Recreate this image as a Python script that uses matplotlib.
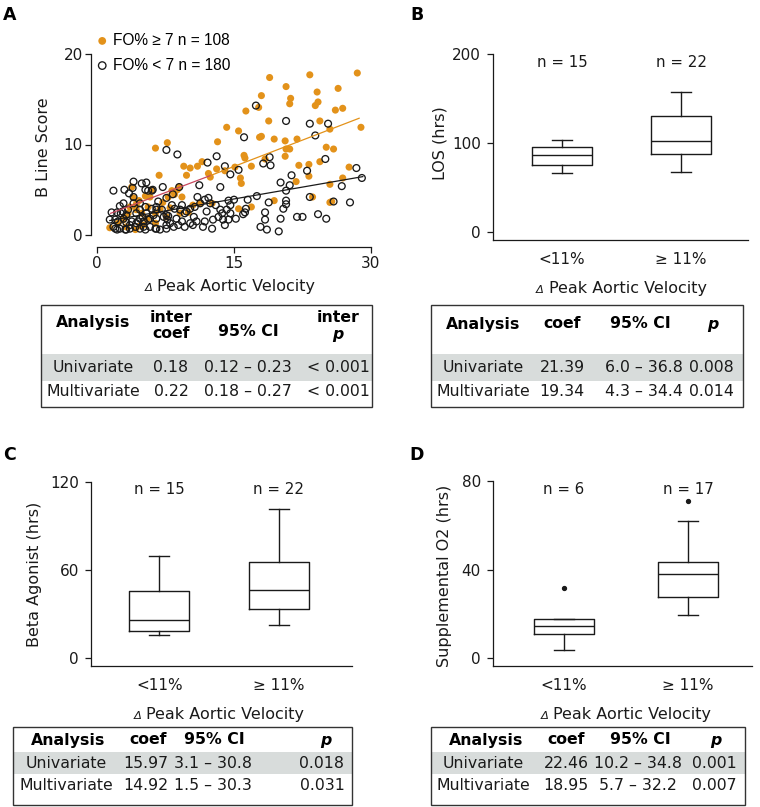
import matplotlib
matplotlib.use("Agg")
import matplotlib.pyplot as plt
from matplotlib.patches import Rectangle
import numpy as np

plt.rcParams['font.family'] = ['DejaVu Sans']

# ---------------- data ----------------
# Panel A scatter: FO% >= 7 (orange) and FO% < 7 (open black)
hi_x = [28.5, 23.3, 18.9, 20.7, 26.4, 18.0, 21.2, 24.1, 24.2, 23.9, 21.1, 17.7, 16.3, 26.1, 26.9,
        18.8, 24.4, 28.9, 15.5, 14.2, 18.0, 17.8, 19.4, 20.6, 21.9, 25.5, 20.7, 21.1, 25.1, 25.9,
        20.6, 18.4, 16.1, 16.2, 24.4, 22.1, 23.2, 16.9, 15.1, 27.6, 15.7, 15.8, 23.2, 21.8, 25.5,
        26.9, 19.4, 23.6, 25.5, 16.9, 15.5, 25.7,
        13.2, 7.7, 6.4, 6.8, 9.5, 10.2, 11.0, 11.5, 9.8, 12.2, 12.4, 13.1, 14.0, 8.2, 8.5, 8.8,
        9.3, 7.8, 9.0, 3.8, 4.0, 4.3, 4.3, 3.4, 5.3, 5.8, 5.6, 4.9, 6.4, 6.9, 7.6, 9.1, 1.4, 2.3,
        3.2, 2.9, 4.2, 5.1, 6.4, 11.3, 10.5, 12.6, 3.6,
        4.6, 7.2, 3.0, 5.5, 4.7, 8.0, 10.0, 6.0]
hi_y = [17.9, 17.7, 17.4, 16.4, 16.2, 15.4, 15.1, 15.8, 14.7, 14.3, 14.5, 14.1, 13.7, 13.8, 14.0,
        12.6, 12.6, 11.9, 11.5, 11.9, 10.9, 10.8, 10.6, 10.4, 10.6, 11.7, 9.5, 9.5, 9.7, 9.5,
        8.7, 8.4, 8.8, 8.5, 8.1, 7.7, 7.8, 7.6, 7.5, 7.5, 6.3, 5.7, 6.5, 5.9, 5.6,
        6.3, 3.8, 4.2, 3.6, 3.1, 2.9, 3.7,
        10.3, 10.2, 9.6, 6.6, 7.6, 7.4, 7.6, 8.1, 6.6, 6.8, 6.4, 7.3, 7.1, 4.9, 4.5, 5.0,
        4.2, 4.2, 5.3, 5.3, 4.1, 3.4, 2.8, 2.4, 4.3, 4.2, 3.1, 2.4, 2.4, 2.9, 2.0, 2.4, 0.8, 1.3,
        0.9, 1.7, 0.6, 1.1, 1.3, 3.5, 3.3, 3.5, 3.1,
        3.8, 3.6, 2.0, 1.8, 1.0, 3.0, 2.5, 5.0]

lo_x = [17.4, 20.7, 23.3, 25.3, 16.1, 23.9, 18.9, 19.0, 18.2, 23.0, 25.0, 28.4, 29.0, 21.3, 20.1,
        21.1, 26.8, 20.7, 17.5, 15.5, 14.6, 14.0, 18.8, 20.7, 20.7, 23.3, 25.9, 27.7, 20.4, 18.4,
        16.2, 16.3, 16.5, 18.4, 20.1, 21.9, 22.5, 24.2, 25.1, 17.9, 18.6, 19.9, 15.2, 14.6, 16.0,
        15.0, 14.4,
        7.6, 8.8, 13.1, 12.1, 11.2, 13.5, 9.0, 7.2, 1.8, 3.0, 4.0, 4.9, 5.4, 3.9, 5.3, 5.6, 6.0,
        2.9, 4.0, 3.4, 1.6, 2.2, 2.6, 3.2, 4.3, 5.4, 6.2, 6.5, 7.3, 7.8, 8.5, 9.1, 9.8, 10.2,
        10.7, 11.3, 11.8, 12.2, 12.4, 13.0, 13.5, 13.7, 13.3, 13.8, 12.7, 11.8, 10.9, 10.2, 9.3,
        8.9, 8.0, 7.6, 6.9, 6.4, 5.8, 5.3, 4.7, 4.2, 3.6, 3.1, 2.5, 2.2, 3.2, 3.8, 4.3, 5.1, 5.6,
        4.7, 2.9, 2.3, 6.0, 6.5, 7.1, 8.2, 7.7, 8.4, 9.6, 10.5, 11.6, 12.6, 14.0, 14.4, 14.2,
        14.6, 7.6, 6.7, 4.7, 5.3, 2.0, 1.8, 1.4,
        2.8, 4.0, 4.7, 3.6, 5.1, 6.5, 7.6, 8.7, 9.6, 7.6, 6.5, 5.8, 4.5, 3.2, 2.0, 6.1, 3.5, 2.5,
        5.0, 9.3, 10.6, 12.0, 11.0, 8.3]
lo_y = [14.3, 12.6, 12.3, 12.3, 10.8, 11.0, 8.6, 7.7, 7.9, 7.1, 8.4, 7.4, 6.3, 6.6, 5.8,
        5.5, 5.4, 4.9, 4.3, 7.2, 6.7, 7.6, 3.6, 3.8, 3.4, 4.2, 3.7, 3.6, 2.9, 2.5,
        2.5, 2.9, 3.9, 1.7, 1.8, 2.0, 2.0, 2.3, 1.8, 0.9, 0.6, 0.4, 1.8, 2.4, 2.3,
        3.9, 3.8,
        9.4, 8.9, 8.7, 8.0, 5.5, 5.3, 5.3, 5.3, 4.9, 5.0, 5.9, 5.7, 5.8, 5.2, 5.0, 4.9, 4.9,
        3.5, 4.2, 2.8, 2.5, 2.5, 2.4, 2.2, 2.4, 2.4, 2.2, 1.8, 2.0, 2.1, 2.9, 2.8, 2.6, 2.9,
        3.1, 3.5, 3.9, 4.1, 3.5, 3.3, 2.8, 2.4, 2.0, 1.7, 1.7, 1.5, 1.5, 1.3, 1.5,
        1.1, 1.3, 0.7, 0.6, 0.7, 0.9, 0.6, 0.7, 0.9, 0.7, 0.6, 0.7, 0.6, 1.4, 1.5, 1.3, 1.5, 1.7,
        1.8, 1.8, 1.5, 2.9, 3.1, 2.8, 3.3, 1.7, 0.9, 0.9, 1.1, 0.9, 0.7, 1.1, 1.7, 2.8,
        3.3, 4.1, 3.7, 3.5, 3.1, 1.7, 0.9, 1.7,
        2.6, 3.5, 2.8, 1.1, 0.9, 0.7, 1.1, 1.8, 2.4, 2.2, 2.8, 1.8, 1.5, 0.6, 0.7, 5.0, 4.6, 3.2,
        2.0, 3.3, 2.0, 2.6, 4.2, 4.5]

# fitted lines
fit_hi_x = [1.5, 12.5, 28.7]
fit_hi_y = [2.4, 6.6, 12.9]
fit_lo_x = [1.4, 29.1]
fit_lo_y = [1.6, 6.45]

legend_labels = ["FO% \u2265 7 n = 108", "FO% < 7 n = 180"]

categories = ["<11%", "\u2265 11%"]

# Panel B: LOS (hrs)
b_whislo = [66, 68]
b_q1 = [75, 87.5]
b_med = [86.3, 102.4]
b_q3 = [95.7, 130.8]
b_whishi = [103.8, 157.3]
b_fliers = [[], []]
b_n = ["n = 15", "n = 22"]

# Panel C: Beta agonist (hrs)
c_whislo = [15.7, 22.3]
c_q1 = [18.6, 33.4]
c_med = [25.9, 46.4]
c_q3 = [45.9, 65.4]
c_whishi = [69.7, 101.8]
c_fliers = [[], []]
c_n = ["n = 15", "n = 22"]

# Panel D: Supplemental O2 (hrs)
d_whislo = [3.6, 19.4]
d_q1 = [10.7, 27.7]
d_med = [14.6, 37.8]
d_q3 = [17.6, 43.5]
d_whishi = [17.6, 61.9]
d_fliers = [[31.8], [71.0]]
d_n = ["n = 6", "n = 17"]

# Tables
tab_cols_A = [["Analysis"], ["inter", "coef"], ["95% CI"], ["inter", "p"]]
tab_rows_A = [["Univariate", "0.18", "0.12 \u2013 0.23", "< 0.001"],
              ["Multivariate", "0.22", "0.18 \u2013 0.27", "< 0.001"]]
tab_cols = ["Analysis", "coef", "95% CI", "p"]
tab_rows_B = [["Univariate", "21.39", "6.0 \u2013 36.8", "0.008"],
              ["Multivariate", "19.34", "4.3 \u2013 34.4", "0.014"]]
tab_rows_C = [["Univariate", "15.97", "3.1 \u2013 30.8", "0.018"],
              ["Multivariate", "14.92", "1.5 \u2013 30.3", "0.031"]]
tab_rows_D = [["Univariate", "22.46", "10.2 \u2013 34.8", "0.001"],
              ["Multivariate", "18.95", "5.7 \u2013 32.2", "0.007"]]

# ---------------- layout helpers ----------------
W, H = 760, 807
fig = plt.figure(figsize=(W / 100, H / 100), dpi=100)
renderer = fig.canvas.get_renderer()
ORANGE = '#E3921A'
INK = '#1a1a1a'
SHADE = '#d8dcdb'
TICK_FS = 11
LAB_FS = 11.5
N_FS = 10.8
TFS = 11.3


def add_ax(x0, x1, y0, y1):
    return fig.add_axes([x0 / W, 1 - y1 / H, (x1 - x0) / W, (y1 - y0) / H])


def lin(p0, v0, p1, v1, p):
    return v0 + (p - p0) * (v1 - v0) / (p1 - p0)


def ftext(x, y, s, **kw):
    kw.setdefault('fontsize', LAB_FS)
    kw.setdefault('ha', 'center')
    kw.setdefault('va', 'center')
    kw.setdefault('color', INK)
    return fig.text(x / W, 1 - y / H, s, **kw)


def delta_label(cx, baseline):
    t = ftext(0, baseline, "Peak Aortic Velocity", ha='left', va='baseline')
    d = ftext(0, baseline, "\u0394", ha='left', va='baseline', fontstyle='italic',
              fontsize=LAB_FS * 0.72)
    wt = t.get_window_extent(renderer).width
    wd = d.get_window_extent(renderer).width
    gap = 5
    start = cx - (wd + gap + wt) / 2
    d.set_x(start / W)
    t.set_x((start + wd + gap) / W)


def style_ax(ax, pad):
    for sp in ['top', 'right']:
        ax.spines[sp].set_visible(False)
    for sp in ['left', 'bottom']:
        ax.spines[sp].set_linewidth(0.9)
        ax.spines[sp].set_color(INK)
    ax.tick_params(axis='both', direction='out', length=4.3, width=0.9, color=INK,
                   labelsize=TICK_FS, labelcolor=INK, pad=pad)
    ax.patch.set_alpha(0)


# ---------------- Panel A ----------------
axA = add_ax(91, 376, 40, 247)
axA.set_xlim(lin(97, 0, 371, 30, 91), lin(97, 0, 371, 30, 376))
axA.set_ylim(lin(235, 0, 54, 20, 247), lin(235, 0, 54, 20, 40))
style_ax(axA, 1.5)
axA.tick_params(axis='x', pad=2.5)
axA.spines['left'].set_bounds(0, 20)
axA.spines['bottom'].set_bounds(0, 30)
axA.set_xticks([0, 15, 30])
axA.set_yticks([0, 10, 20])
sc1 = axA.scatter(hi_x, hi_y, s=26, color=ORANGE, edgecolors='none', zorder=2,
                  label=legend_labels[0])
sc2 = axA.scatter(lo_x, lo_y, s=24, facecolors='none', edgecolors=INK, linewidths=0.95,
                  zorder=3, label=legend_labels[1])
xs = np.array(fit_hi_x)
ys = np.array(fit_hi_y)
axA.plot(xs[:2], ys[:2], color='#c8485e', lw=0.9, zorder=4)
axA.plot(xs[1:], ys[1:], color=ORANGE, lw=0.9, zorder=4)
axA.plot(fit_lo_x, fit_lo_y, color=INK, lw=0.9, zorder=4)
axA.legend(handles=[sc1, sc2], loc='upper left', bbox_to_anchor=(96 / W, 1 - 33 / H),
           bbox_transform=fig.transFigure, frameon=False,
           prop={'family': ['Liberation Sans', 'DejaVu Sans'], 'size': 11.2},
           handlelength=0.8, handletextpad=0.3, borderpad=0, borderaxespad=0,
           labelspacing=0.62, scatterpoints=1, markerscale=1.1)
ftext(44, 147, "B Line Score", rotation=90)
delta_label(230, 291)
ftext(10, 15, "A", fontsize=12.5, fontweight='bold', color='black')


# ---------------- Box panels ----------------
def box_panel(x0, x1, y0, y1, pos_px, yref, ticks, whislo, q1, med, q3, whishi, fliers,
              nlab, n_y, ylabel, ylab_x, ylab_y):
    ax = add_ax(x0, x1, y0, y1)
    ax.set_xlim(lin(pos_px[0], 1, pos_px[1], 2, x0), lin(pos_px[0], 1, pos_px[1], 2, x1))
    ylo = lin(yref[0], 0, yref[1], ticks[-1], y1)
    ax.set_ylim(ylo, lin(yref[0], 0, yref[1], ticks[-1], y0))
    style_ax(ax, 4.5)
    ax.spines['left'].set_bounds(ylo, ticks[-1])
    ax.set_yticks(ticks)
    ax.set_xticks([])
    unit = pos_px[1] - pos_px[0]
    stats = []
    for i in range(2):
        stats.append(dict(whislo=whislo[i], q1=q1[i], med=med[i], q3=q3[i],
                          whishi=whishi[i], fliers=fliers[i]))
    lp = dict(color=INK, linewidth=1.0)
    ax.bxp(stats, positions=[1, 2], widths=60 / unit, capwidths=20 / unit,
           boxprops=lp, whiskerprops=lp, capprops=lp, medianprops=lp,
           flierprops=dict(marker='o', markersize=2.8, markerfacecolor=INK,
                           markeredgecolor=INK), manage_ticks=False)
    for i in range(2):
        ax.text(i + 1, lin(yref[0], 0, yref[1], ticks[-1], n_y), nlab[i],
                ha='center', va='center', fontsize=N_FS, color=INK)
    base = y1
    for i in range(2):
        ftext(pos_px[i], base + 19, categories[i], fontsize=TICK_FS)
    delta_label((pos_px[0] + pos_px[1]) / 2, base + 53)
    ftext(ylab_x, ylab_y, ylabel, rotation=90)
    return ax


box_panel(493, 748, 50, 240, (562, 681), (232.3, 54), [0, 100, 200],
          b_whislo, b_q1, b_med, b_q3, b_whishi, b_fliers, b_n, 63, "LOS (hrs)", 440, 143)
box_panel(91, 352, 476, 666, (159.3, 278.8), (658, 482), [0, 60, 120],
          c_whislo, c_q1, c_med, c_q3, c_whishi, c_fliers, c_n, 490,
          "Beta Agonist (hrs)", 35, 574)
box_panel(493, 752, 476, 666, (564, 688), (658, 481), [0, 40, 80],
          d_whislo, d_q1, d_med, d_q3, d_whishi, d_fliers, d_n, 490,
          "Supplemental O2 (hrs)", 445, 576)
ftext(417, 15, "B", fontsize=12.5, fontweight='bold', color='black')
ftext(9, 455, "C", fontsize=12.5, fontweight='bold', color='black')
ftext(417, 455, "D", fontsize=12.5, fontweight='bold', color='black')


# ---------------- Tables ----------------
def table(x0, x1, y0, y1, shade, col_x, header, rows, row_y):
    ax = add_ax(x0 - 3, x1 + 3, y0 - 3, y1 + 3)
    ax.set_xlim(x0 - 3, x1 + 3)
    ax.set_ylim(y1 + 3, y0 - 3)
    ax.axis('off')
    ax.add_patch(Rectangle((x0, shade[0]), x1 - x0, shade[1] - shade[0],
                           facecolor=SHADE, edgecolor='none'))
    ax.add_patch(Rectangle((x0, y0), x1 - x0, y1 - y0, fill=False,
                           edgecolor='#333333', linewidth=1.0))
    for (s, x, y, style) in header:
        ax.text(x, y, s, ha='center', va='center', fontsize=TFS, fontweight='bold',
                fontstyle=style, color='black')
    for r, row in enumerate(rows):
        for c, s in enumerate(row):
            ax.text(col_x[c], row_y[r], s, ha='center', va='center', fontsize=TFS,
                    color=INK)


colA = [93, 171, 248, 338]
hdrA = [(tab_cols_A[0][0], colA[0], 323, 'normal'),
        (tab_cols_A[1][0], colA[1], 318, 'normal'), (tab_cols_A[1][1], colA[1], 334, 'normal'),
        (tab_cols_A[2][0], colA[2], 331, 'normal'),
        (tab_cols_A[3][0], colA[3], 318, 'normal'), (tab_cols_A[3][1], colA[3], 334, 'italic')]
table(41, 372, 305, 407, (354, 381), colA, hdrA, tab_rows_A, [367, 392])

colB = [483, 562, 644, 711]
hdrB = [(tab_cols[i], [483, 562, 640, 713][i], 324, 'italic' if i == 3 else 'normal')
        for i in range(4)]
table(431, 743, 305, 407, (354, 381), colB, hdrB, tab_rows_B, [367, 392])

colC = [66, 146, 213, 322]
hdrC = [(tab_cols[i], [68, 148, 214, 326][i], 740, 'italic' if i == 3 else 'normal')
        for i in range(4)]
table(13, 352, 727, 805, (752, 774), colC, hdrC, tab_rows_C, [763, 786])

colD = [483, 566, 638, 714]
hdrD = [(tab_cols[i], [486, 566, 640, 716][i], 740, 'italic' if i == 3 else 'normal')
        for i in range(4)]
table(431, 745, 727, 805, (752, 774), colD, hdrD, tab_rows_D, [763, 786])

fig.savefig("out.png", dpi=100)
